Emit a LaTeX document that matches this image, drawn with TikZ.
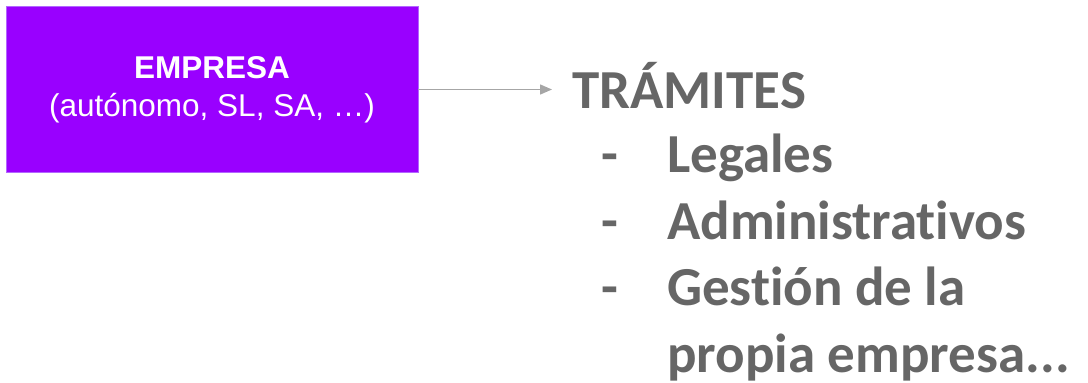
\documentclass[tikz,border=0pt]{standalone}
\usepackage{fontspec}
\setmainfont{Liberation Sans}
\newfontfamily\calibri[Ligatures=NoCommon]{Carlito}
\usetikzlibrary{arrows.meta}
\definecolor{boxpurple}{HTML}{9900FF}
\definecolor{boxedge}{HTML}{B366FF}
\definecolor{txtgray}{HTML}{666666}
\definecolor{arrgray}{HTML}{A6A6A6}
\tikzset{
  mainbox/.style={rectangle, fill=boxpurple, draw=boxedge, line width=0.8pt,
    minimum width=412pt, minimum height=166pt, inner sep=0pt, text=white,
    align=center, font=\fontsize{31.5}{38}\selectfont},
  bigtxt/.style={anchor=base west, inner sep=0pt, text=txtgray,
    font=\calibri\bfseries\fontsize{55}{66}\selectfont},
  conn/.style={draw=arrgray, line width=1.5pt, -{Triangle[length=12pt,width=10pt]}}
}
\begin{document}
\begin{tikzpicture}[x=1pt,y=-1pt]
\useasboundingbox (0,0) rectangle (1088,383);
\node[mainbox] (box) at (212,89.5) {\textbf{EMPRESA}\\(autónomo, SL, SA, …)};
\node[bigtxt] (tram) at (572,108) {TRÁMITES};
\node[bigtxt] (d1) at (601,172) {-};
\node[bigtxt] (i1) at (667,172) {Legales};
\node[bigtxt] (d2) at (601,239) {-};
\node[bigtxt] (i2) at (667,239) {Administrativos};
\node[bigtxt] (d3) at (601,305) {-};
\node[bigtxt] (i3) at (667,305) {Gestión de la};
\node[bigtxt] (i4) at (667,372) {propia empresa.\kern0.5pt.\kern0.5pt.};
\draw[conn, shorten >=20pt] (box.east) -- (box.east -| tram.west);
\end{tikzpicture}
\end{document}
